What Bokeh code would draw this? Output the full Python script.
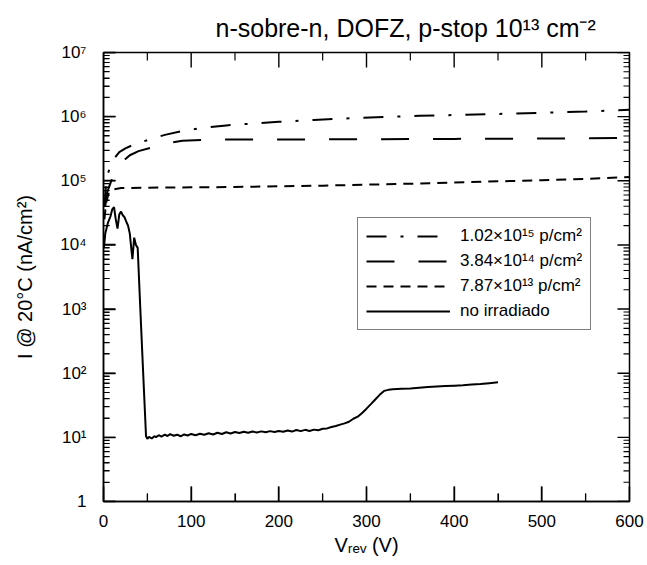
from bokeh.plotting import figure
from bokeh.models import Range1d, FixedTicker, Legend, LegendItem
from bokeh.embed import file_html
from bokeh.resources import INLINE

# ---------------- data ----------------
v_1e15 = [1, 3, 5, 8, 12, 18, 25, 35, 50, 70, 90, 110, 140, 170, 200, 240, 280, 320, 360, 400, 450, 500, 550, 600]
i_1e15 = [4e4, 9e4, 1.3e5, 1.7e5, 2.2e5, 2.8e5, 3.2e5, 3.7e5, 4.3e5, 5.2e5, 6.0e5, 6.6e5, 7.3e5, 7.8e5,
          8.3e5, 8.9e5, 9.4e5, 9.9e5, 1.03e6, 1.06e6, 1.1e6, 1.15e6, 1.2e6, 1.28e6]

v_3e14 = [2, 4, 7, 12, 20, 30, 40, 55, 70, 90, 120, 200, 300, 400, 500, 600]
i_3e14 = [4e4, 6.5e4, 8.5e4, 1.3e5, 1.9e5, 2.5e5, 2.9e5, 3.3e5, 3.8e5, 4.2e5, 4.4e5, 4.4e5, 4.45e5, 4.5e5, 4.55e5, 4.65e5]

v_7e13 = [1, 3, 6, 10, 20, 50, 100, 150, 200, 250, 300, 350, 400, 450, 500, 550, 600]
i_7e13 = [2.5e4, 4.5e4, 6.5e4, 7.3e4, 7.7e4, 7.8e4, 7.9e4, 8.0e4, 8.2e4, 8.4e4, 8.7e4, 9.0e4, 9.4e4,
          9.8e4, 1.02e5, 1.07e5, 1.15e5]

v_noirr = [0.5, 2, 5, 8, 10, 12, 14, 16, 18, 20, 22, 24, 26, 28, 30, 32, 33, 35, 37, 39, 42, 45, 48.5,
           50, 52, 55, 58, 60, 63, 66, 70, 73, 76, 80, 84, 88, 92, 96, 100, 105, 110, 115, 120, 125,
           130, 135, 140, 145, 150, 155, 160, 165, 170, 175, 180, 185, 190, 195, 200, 205, 210, 215,
           220, 225, 230, 235, 240, 245, 250, 255, 260, 265, 270, 275, 280, 285, 290, 295, 300, 305,
           310, 315, 320, 325, 330, 340, 350, 360, 370, 380, 390, 400, 410, 420, 430, 440, 450]
i_noirr = [9e3, 1.5e4, 2.2e4, 2.8e4, 3.6e4, 3.9e4, 2.5e4, 1.8e4, 3.0e4, 3.3e4, 2.9e4, 2.7e4, 2.3e4,
           2.0e4, 1.5e4, 8e3, 6e3, 1.3e4, 1.0e4, 9e3, 1.0e3, 120, 10.5,
           9.5, 10.2, 9.6, 10.4, 10.1, 10.8, 10.3, 11.0, 10.5, 11.2, 10.6, 11.0, 10.4, 11.1, 10.7,
           11.3, 10.8, 11.4, 11.0, 11.6, 11.1, 11.8, 11.3, 12.0, 11.5, 12.1, 11.7, 12.2, 11.8, 12.3,
           11.9, 12.4, 12.0, 12.5, 12.1, 12.6, 12.2, 12.8, 12.3, 13.0, 12.5, 13.1, 12.6, 13.2, 12.9,
           13.6, 13.8, 14.5, 15.0, 15.8, 16.5, 17.5, 19.5, 21, 24, 28, 33, 39, 46, 53, 55, 56, 57,
           58, 59.5, 61, 62, 63, 64, 65, 66.5, 68, 70, 72]

labels = ["1.02×10¹⁵ p/cm²", "3.84×10¹⁴ p/cm²", "7.87×10¹³ p/cm²", "no irradiado"]
x_ticks = [0, 100, 200, 300, 400, 500, 600]
x_minor = [50, 150, 250, 350, 450, 550]
y_ticks = [1, 10, 100, 1000, 10000, 100000, 1000000, 10000000]
y_tick_labels = ["1", "10¹", "10²", "10³", "10⁴", "10⁵", "10⁶", "10⁷"]
y_minor = [m * 10 ** k for k in range(0, 7) for m in range(2, 10)]

X0, X1 = 0, 600
Y0, Y1 = 1, 1e7
FW, FH = 526, 449          # frame size in px
FONT = "Liberation Sans"

p = figure(width=647, height=565, output_backend="svg", toolbar_location=None,
           y_axis_type="log", x_range=Range1d(X0, X1), y_range=Range1d(Y0, Y1),
           min_border_left=103, min_border_right=18, min_border_top=52, min_border_bottom=64,
           title="n-sobre-n, DOFZ, p-stop 10¹³ cm⁻²")
p.grid.visible = False
p.outline_line_color = "black"
p.outline_line_width = 1.5

p.title.align = "left"
p.title.offset = 112
p.title.standoff = 21
p.title.text_font = FONT
p.title.text_font_style = "normal"
p.title.text_font_size = "25px"
p.title.text_color = "black"

xt = FixedTicker(ticks=x_ticks, minor_ticks=x_minor)
yt = FixedTicker(ticks=y_ticks, minor_ticks=y_minor)


def style(ax):
    ax.axis_line_color = "black"
    ax.axis_line_width = 1.5
    ax.major_tick_line_color = "black"
    ax.minor_tick_line_color = "black"
    ax.major_tick_line_width = 1.4
    ax.minor_tick_line_width = 1.1
    ax.major_tick_out = 0
    ax.minor_tick_out = 0
    ax.major_label_text_font = FONT
    ax.major_label_text_font_size = "17px"
    ax.major_label_text_color = "black"
    ax.axis_label_text_font = FONT
    ax.axis_label_text_font_style = "normal"
    ax.axis_label_text_font_size = "20px"
    ax.axis_label_text_color = "black"


xa = p.xaxis[0]
xa.ticker = xt
style(xa)
xa.major_tick_in = 15
xa.minor_tick_in = 8
xa.major_label_standoff = 13
xa.axis_label = "Vᵣₑᵥ (V)"
xa.axis_label_standoff = 4

ya = p.yaxis[0]
ya.ticker = yt
style(ya)
ya.major_tick_in = 12
ya.minor_tick_in = 6
ya.major_label_standoff = 17
ya.major_label_overrides = {t: s for t, s in zip(y_ticks, y_tick_labels)}
ya.axis_label = "I @ 20°C (nA/cm²)"
ya.axis_label_standoff = 21

# inward tick marks on all four sides, drawn as thin filled bars (px lengths converted to data units)
dx_per_px = (X1 - X0) / FW
dlog_per_px = 7.0 / FH


def x_tick_bars(ticks, length_px, width_px):
    half = 0.5 * width_px * dx_per_px
    up = 10 ** (length_px * dlog_per_px)
    n = len(ticks)
    return dict(left=[t - half for t in ticks] * 2, right=[t + half for t in ticks] * 2,
                bottom=[Y0] * n + [Y1 / up] * n, top=[Y0 * up] * n + [Y1] * n)


def y_tick_bars(ticks, length_px, width_px):
    f = 10 ** (0.5 * width_px * dlog_per_px)
    d = length_px * dx_per_px
    n = len(ticks)
    return dict(left=[X0] * n + [X1 - d] * n, right=[X0 + d] * n + [X1] * n,
                bottom=[t / f for t in ticks] * 2, top=[t * f for t in ticks] * 2)


for bars in (x_tick_bars(x_ticks, 15, 1.4), x_tick_bars(x_minor, 8, 1.2),
             y_tick_bars(y_ticks, 12, 1.4), y_tick_bars(y_minor, 6, 1.1)):
    p.quad(fill_color="black", line_color=None, **bars)

r1 = p.line(v_1e15, i_1e15, line_color="black", line_width=2, line_dash="20 14 3 14")
r2 = p.line(v_3e14, i_3e14, line_color="black", line_width=2, line_dash="28 24")
r3 = p.line(v_7e13, i_7e13, line_color="black", line_width=2, line_dash="10 7")
r4 = p.line(v_noirr, i_noirr, line_color="black", line_width=2)

legend = Legend(items=[LegendItem(label=labels[0], renderers=[r1]),
                       LegendItem(label=labels[1], renderers=[r2]),
                       LegendItem(label=labels[2], renderers=[r3]),
                       LegendItem(label=labels[3], renderers=[r4])],
                location=(254, 171))
legend.label_text_font = FONT
legend.label_text_font_size = "17px"
legend.label_text_color = "black"
legend.glyph_width = 84
legend.glyph_height = 20
legend.label_standoff = 10
legend.spacing = 5
legend.padding = 8
legend.border_line_color = "black"
legend.border_line_width = 1
legend.background_fill_alpha = 1
p.add_layout(legend, "center")

open("out.html", "w").write(file_html(p, INLINE))
